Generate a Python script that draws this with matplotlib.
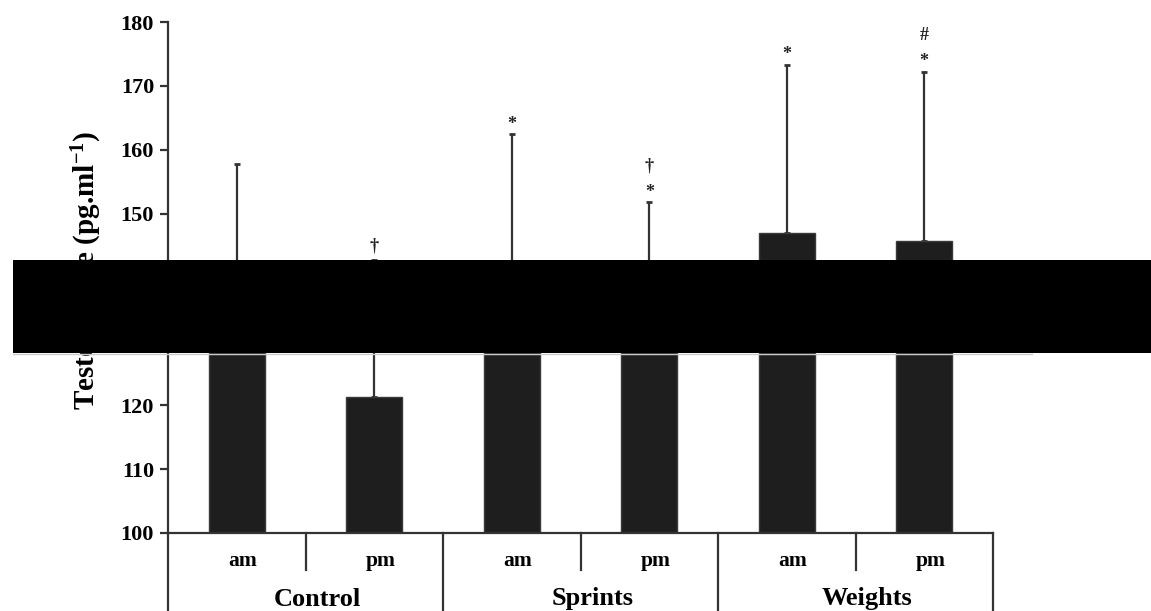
import numpy as np
import matplotlib
matplotlib.use('Agg')
import matplotlib.pyplot as plt
import matplotlib.transforms as mtransforms
from matplotlib.patches import Rectangle

plt.rcParams['font.family'] = 'Liberation Serif'
plt.rcParams['font.weight'] = 'bold'
plt.rcParams['mathtext.fontset'] = 'custom'
plt.rcParams['mathtext.rm'] = 'Liberation Serif:bold'
plt.rcParams['mathtext.bf'] = 'Liberation Serif:bold'
plt.rcParams['mathtext.default'] = 'rm'

# data (bars hidden by the black box are estimates)
groups = ['Control', 'Sprints', 'Weights']
times = ['am', 'pm', 'am', 'pm', 'am', 'pm']
means = [136.0, 121.3, 140.0, 137.0, 147.0, 145.7]
err_top = [157.7, 142.8, 162.4, 151.8, 173.3, 172.2]
marks = [[], ['†'], ['*'], ['*', '†'], ['*'], ['*', '#']]

sd = np.array(err_top) - np.array(means)
x = np.arange(len(means))

fig = plt.figure(figsize=(11.51, 6.11), dpi=100)
ax = fig.add_axes([168/1151, 78/611, 825/1151, 511/611])

ax.bar(x, np.array(means) - 100, bottom=100, width=0.41, color='#1e1e1e',
       edgecolor='#3a3a3a', linewidth=1, zorder=2)
ax.errorbar(x, means, yerr=[np.zeros(len(sd)), sd], fmt='none', ecolor='#333333',
            elinewidth=1.6, capsize=2.4, capthick=2, zorder=1)

# significance marks above error bars (offsets in pixels)
offs = [14, 36]
for i in range(len(x)):
    for j, m in enumerate(marks[i]):
        dy = offs[j] - (4 if m == '*' else 0)
        ax.annotate(m, (x[i], err_top[i]), xytext=(0, dy),
                    textcoords='offset pixels', ha='center', va='center',
                    fontsize=13, fontweight='bold', color='#222222')

ax.set_xlim(-0.5, 5.5)
ax.set_ylim(100, 180)
ax.set_yticks(np.arange(100, 181, 10))
ax.set_xticks([])
for s in ['top', 'right']:
    ax.spines[s].set_visible(False)
for s in ['left', 'bottom']:
    ax.spines[s].set_color('#333333')
    ax.spines[s].set_linewidth(1.6)
ax.tick_params(axis='y', length=6, width=1.6, color='#333333', labelsize=16, pad=4)
for lab in ax.get_yticklabels():
    lab.set_fontweight('bold')

ax.set_ylabel('Testosterone (pg.ml$^{-1}$)', fontsize=21, fontweight='bold', va='center')
ax.yaxis.set_label_coords(-0.098, 0.513)

# category axis below the plot
trans = mtransforms.blended_transform_factory(ax.transData, ax.transAxes)
for xb in [0.5, 2.5, 4.5]:
    ax.plot([xb, xb], [0, -37/511], transform=trans, color='#333333', lw=1.6, clip_on=False)
for xb in [-0.5, 1.5, 3.5, 5.5]:
    ax.plot([xb, xb], [0, -80/511], transform=trans, color='#333333', lw=1.6, clip_on=False)
for i, t in enumerate(times):
    ax.text(x[i] + 0.044, -28/511, t, transform=trans, ha='center', va='center',
            fontsize=15.5, fontweight='bold')
for g, name in enumerate(groups):
    ax.text(2*g + 0.5 + 0.087, -66/511, name, transform=trans, ha='center', va='center',
            fontsize=19, fontweight='bold')

# black box covering part of the figure
fig.add_artist(Rectangle((13/1151, (611-353)/611), (1151-13)/1151, 93/611,
                         transform=fig.transFigure, facecolor='black',
                         edgecolor='none', zorder=10))
fig.add_artist(plt.Line2D([13/1151, 1032/1151], [(611-354)/611]*2,
                          transform=fig.transFigure, color='#cccccc', lw=1, zorder=9))

fig.savefig('out.png', dpi=100)
